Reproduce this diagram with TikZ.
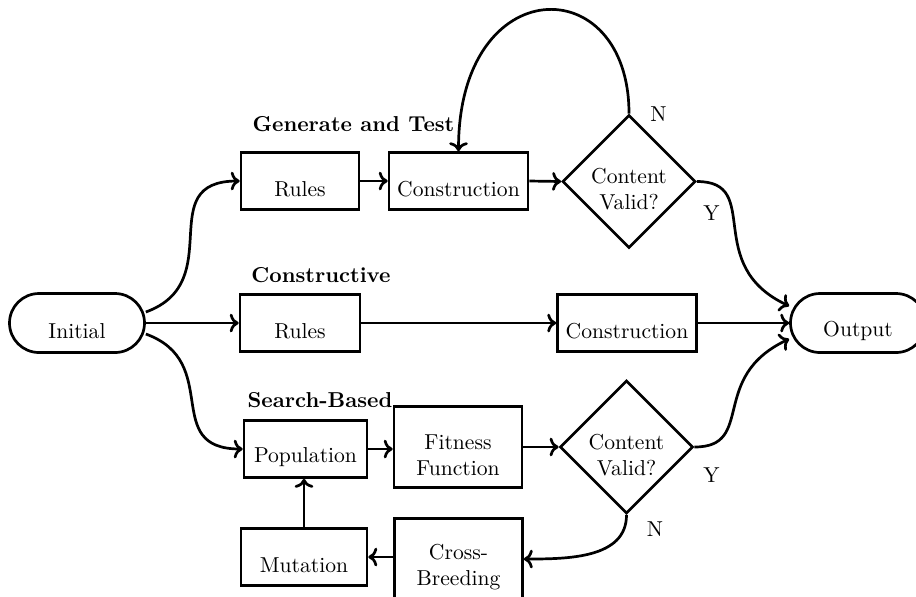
\documentclass[tikz,border=0pt]{standalone}
\usetikzlibrary{shapes.geometric,shapes.misc,arrows.meta}

% one drawing unit
\newdimen\pxl \pxl=0.463pt

% node text sits a little below the middle of its box
\newcommand\lowtext[1]{\raisebox{0pt}[\dimexpr\height+7.4pt\relax][\depth]{\vbox{\halign{\hfil##\hfil\cr#1\crcr}}}}

\begin{document}
\begin{tikzpicture}[x=\pxl, y=\pxl,
  block/.style={draw, line width=1.25pt, rectangle, inner sep=0pt, minimum height=57\pxl},
  stadium/.style={draw, line width=1.25pt, rounded rectangle, inner sep=0pt,
                  minimum width=135\pxl, minimum height=59\pxl},
  check/.style={draw, line width=1.25pt, diamond, shape aspect=1, inner sep=0pt},
  heading/.style={font=\bfseries, inner sep=0pt},
  tag/.style={inner sep=0pt},
  flow/.style={draw, line width=1.25pt, -{To[scale=0.95]}}]
\useasboundingbox (0,0) rectangle (916,-596);

% start and end
\node[stadium] (init) at (77,-323) {\lowtext{Initial}};
\node[stadium] (out) at (858,-323) {\lowtext{Output}};

% generate and test
\node[heading] (hgt) at (353.5,-123.6) {Generate and Test};
\node[block, minimum width=118\pxl] (rulesA) at (300,-181) {\lowtext{Rules}};
\node[block, minimum width=139\pxl] (consA) at (458.5,-181) {\lowtext{Construction}};
\node[check] (validA) at (629,-181.5) {\lowtext{Content\cr Valid?}};
\node[tag] (nA) at (658.5,-114) {N};
\node[tag] (yA) at (711.5,-213.5) {Y};

% constructive
\node[heading] (hcon) at (321,-275) {Constructive};
\node[block, minimum width=120\pxl] (rulesB) at (300,-323) {\lowtext{Rules}};
\node[block, minimum width=139\pxl] (consB) at (627,-323) {\lowtext{Construction}};

% search-based
\node[heading] (hsb) at (320,-400) {Search-Based};
\node[block, minimum width=123\pxl] (pop) at (305.5,-449) {\lowtext{Population}};
\node[block, minimum width=128\pxl, minimum height=81\pxl] (fit) at (458,-447) {\lowtext{Fitness\cr Function}};
\node[check] (validB) at (626.5,-447) {\lowtext{Content\cr Valid?}};
\node[block, minimum width=126\pxl] (mut) at (304,-557) {\lowtext{Mutation}};
\node[block, minimum width=128\pxl, minimum height=81\pxl] (cross) at (458.5,-559) {\lowtext{Cross-\cr Breeding}};
\node[tag] (nB) at (655,-529) {N};
\node[tag] (yB) at (711.5,-475.5) {Y};

% branches out of the start
\draw[flow] ([yshift=11\pxl]init.east) to[out=20,in=180,looseness=1.4] (rulesA.west);
\draw[flow] (init.east) -- (rulesB.west);
\draw[flow] ([yshift=-11\pxl]init.east) to[out=-20,in=180,looseness=1.4] (pop.west);

% generate and test flow
\draw[flow] (rulesA.east) -- (consA.west);
\draw[flow] (consA.east) -- (validA.west);
\draw[flow] (validA.north) .. controls +(0,145) and +(0,181) .. (consA.north);
\draw[flow] (validA.east) to[out=0,in=155,out looseness=1.1,in looseness=1.6] ([yshift=17\pxl]out.west);

% constructive flow
\draw[flow] (rulesB.east) -- (consB.west);
\draw[flow] (consB.east) -- (out.west);

% search-based flow
\draw[flow] (pop.east) -- (pop.east -| fit.west);
\draw[flow] (fit.east) -- (validB.west);
\draw[flow] (validB.east) to[out=0,in=205,out looseness=1.1,in looseness=1.6] ([yshift=-16\pxl]out.west);
\draw[flow] (validB.south) to[out=-90,in=0] (cross.east);
\draw[flow] (cross.west |- mut) -- (mut.east);
\draw[flow] (mut.north) -- (mut.north |- pop.south);
\end{tikzpicture}
\end{document}
